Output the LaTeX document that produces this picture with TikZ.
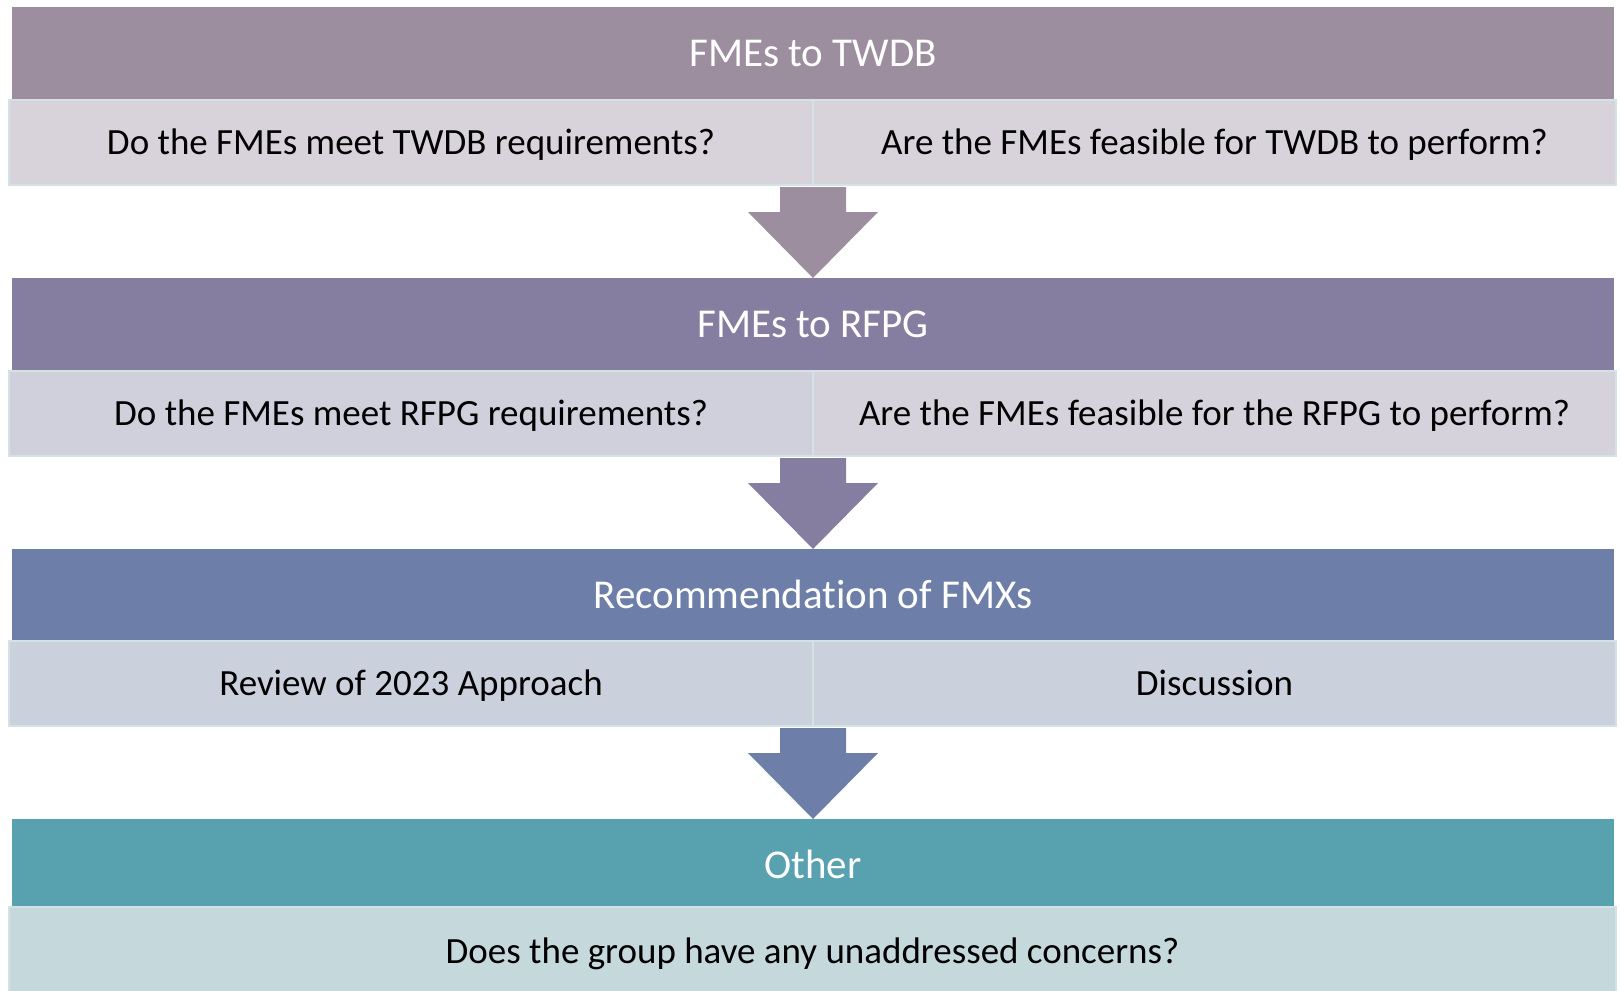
\documentclass[tikz,border=0pt]{standalone}
\usepackage{fontspec}
\setmainfont[Ligatures={NoCommon}]{Carlito}
\usetikzlibrary{calc}
\definecolor{hc1}{HTML}{9C8E9E}
\definecolor{hc2}{HTML}{857EA1}
\definecolor{hc3}{HTML}{6D7FA8}
\definecolor{hc4}{HTML}{58A1AF}
\definecolor{sc1}{HTML}{D8D3DB}
\definecolor{sc2l}{HTML}{CFD0DC}
\definecolor{sc2r}{HTML}{D6D2DC}
\definecolor{sc3}{HTML}{CBD1DC}
\definecolor{sc4}{HTML}{C5D9DD}
\definecolor{sborder}{HTML}{D3E2E4}
\tikzset{
  header/.style={rectangle, anchor=north west, inner sep=0pt, outer sep=0pt,
    minimum width=1602pt, minimum height=93pt, text=white,
    text height=31pt, text depth=5pt,
    font=\fontsize{41}{48}\selectfont},
  subbox/.style={rectangle, anchor=north west, inner sep=0pt, outer sep=0pt,
    draw=sborder, line width=1.5pt, minimum height=85pt, text=black,
    text height=27pt, text depth=3pt,
    font=\fontsize{37}{44}\selectfont},
  halfbox/.style={subbox, minimum width=804pt},
  fullbox/.style={subbox, minimum width=1607pt},
}
\newcommand{\downarrowshape}[3]{%
  \fill[#3] let \p1=(#1), \p2=(#2) in
    (\x1-33pt,\y1-2pt) -- (\x1+33pt,\y1-2pt) -- (\x1+33pt,\y1-27pt) --
    (\x1+65pt,\y1-27pt) -- (\x2,\y2) -- (\x1-65pt,\y1-27pt) --
    (\x1-33pt,\y1-27pt) -- cycle;}
\begin{document}
\begin{tikzpicture}[x=1pt,y=-1pt]
\useasboundingbox (0,0) rectangle (1621,990);
% row 1
\node[header, fill=hc1] (h1) at (12,7) {FMEs to TWDB};
\node[halfbox, fill=sc1] (s1l) at (9,100) {Do the FMEs meet TWDB requirements?};
\node[halfbox, fill=sc1, minimum width=803pt] (s1r) at (813,100) {Are the FMEs feasible for TWDB to perform?};
% row 2
\node[header, fill=hc2] (h2) at (12,278) {FMEs to RFPG};
\node[halfbox, fill=sc2l] (s2l) at (9,371) {Do the FMEs meet RFPG requirements?};
\node[halfbox, fill=sc2r, minimum width=803pt] (s2r) at (813,371) {Are the FMEs feasible for the RFPG to perform?};
% row 3
\node[header, fill=hc3] (h3) at (12,549) {Recommendation of FMXs};
\node[halfbox, fill=sc3] (s3l) at (9,641) {Review of 2023 Approach};
\node[halfbox, fill=sc3, minimum width=803pt] (s3r) at (813,641) {Discussion};
% row 4
\node[header, fill=hc4] (h4) at (12,819) {Other};
\node[fullbox, fill=sc4, minimum height=88pt] (s4) at (9,907) {Does the group have any unaddressed concerns?};
% arrows
\downarrowshape{s1r.south west}{h2.north}{hc1}
\downarrowshape{s2r.south west}{h3.north}{hc2}
\downarrowshape{s3r.south west}{h4.north}{hc3}
\end{tikzpicture}
\end{document}
